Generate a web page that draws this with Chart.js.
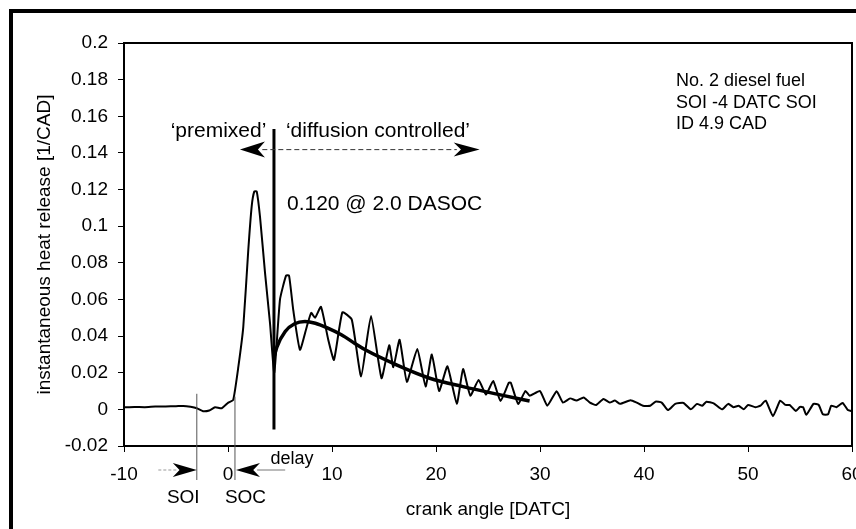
<!DOCTYPE html>
<html>
<head>
<meta charset="utf-8">
<script src="https://cdn.jsdelivr.net/npm/chart.js@4.4.1/dist/chart.umd.min.js"></script>
<style>
  html, body { margin: 0; padding: 0; background: #fff; }
  #wrap { width: 856px; height: 529px; }
</style>
</head>
<body>
<div id="wrap"><canvas id="hrr" width="856" height="529"></canvas></div>
<script>
const crankAngle = [
  -10, -9, -8, -7, -6, -5, -4.3, -3.6, -3.0, -2.4, -1.8, -1.25, -0.6, 0.03, 0.5,
  0.99, 1.47, 1.95, 2.28, 2.53, 2.76, 3.08, 3.56, 4.04, 4.45,
  5.0, 5.58, 5.87, 6.28, 6.92, 7.57, 8.0, 8.37, 8.94, 9.64, 10.19,
  11.0, 11.9, 12.8, 13.75, 14.76, 15.5, 15.9, 16.5, 17.2, 18.2, 19.0, 19.6, 20.3,
  21.1, 22.0, 22.6, 23.3, 24.1, 24.8, 25.5, 26.2, 27.0, 27.2, 27.9, 28.6, 29.0,
  30.0, 30.7, 31.6, 32.2, 32.9, 33.5, 34.2, 34.8, 35.4, 36.1, 36.7, 37.2, 37.7,
  38.7, 39.3, 39.9, 40.6, 41.1, 41.7, 42.3, 43.0, 43.8, 44.5, 45.1, 45.6, 46.0,
  46.7, 47.5, 48.1, 48.6, 49.1, 49.6, 50.0, 50.7, 51.2, 51.7, 52.4, 53.1, 53.6,
  54.0, 54.6, 55.0, 55.3, 55.6, 56.3, 56.8, 57.2, 57.7, 58.0, 58.5, 59.1, 59.6, 60
];
const heatRelease = [
  0.0011, 0.0013, 0.0012, 0.0015, 0.0016, 0.0017, 0.0019, 0.0014, 0.0006, -0.001, -0.0006, 0.0011, 0.0006, 0.0037, 0.0051,
  0.023, 0.045, 0.087, 0.111, 0.119, 0.119, 0.105, 0.0745, 0.047, 0.020,
  0.060, 0.073, 0.073, 0.054, 0.0325, 0.045, 0.0527, 0.050, 0.056, 0.038, 0.027,
  0.053, 0.049, 0.018, 0.051, 0.017, 0.035, 0.023, 0.038, 0.015, 0.033, 0.0125, 0.030, 0.010,
  0.0235, 0.003, 0.022, 0.0075, 0.016, 0.008, 0.0155, 0.0045, 0.0145, 0.0145, 0.003, 0.010, 0.0075,
  0.010, 0.002, 0.0099, 0.0037, 0.006, 0.0048, 0.0065, 0.0037, 0.0024, 0.0057, 0.0037, 0.0048, 0.003,
  0.005, 0.0037, 0.002, 0.002, 0.0042, 0.0037, -0.0004, 0.003, 0.0035, 0.0, 0.003, 0.002, 0.0042,
  0.0033, 0.0, 0.003, 0.0012, 0.002, 0.0, 0.0024, 0.0012, 0.002, 0.0048, -0.0037, 0.0048, 0.0024,
  0.0024, -0.0009, 0.0013, 0.0012, -0.003, 0.003, 0.0024, -0.0027, -0.0027, 0.002, 0.0012, 0.0035, -0.0004, -0.001
];

// smoothed (filtered) curve, diffusion phase
const fitAngle = [4.45, 4.7, 5.5, 6.4, 7.4, 8.4, 9.6, 10.9, 12.2, 13.2, 16.2, 19.4, 22.6, 26.2, 29.0];
const fitRelease = [0.029, 0.034, 0.0425, 0.0467, 0.048, 0.047, 0.0443, 0.0407, 0.036, 0.0325, 0.0243, 0.017, 0.0124, 0.0079, 0.0046];

// thick marker dividing premixed / diffusion phases
const markerAngle = [4.42, 4.42];
const markerRelease = [-0.011, 0.153];

const xTicks = [-10, 0, 10, 20, 30, 40, 50, 60];
const yTicks = [-0.02, 0, 0.02, 0.04, 0.06, 0.08, 0.1, 0.12, 0.14, 0.16, 0.18, 0.2];

const SOI = -3.0;
const SOC = 0.67;

const FONT = '"Liberation Sans", Arial, Helvetica, sans-serif';
const toPoints = (xs, ys) => xs.map((x, i) => ({ x, y: ys[i] }));

// arrowhead with a notched back, tip at (x, y), dir = +1 right / -1 left
function arrowHead(ctx, x, y, dir, len, half) {
    ctx.beginPath();
    ctx.moveTo(x, y);
    ctx.lineTo(x - dir * len, y - half);
    ctx.lineTo(x - dir * len * 0.72, y);
    ctx.lineTo(x - dir * len, y + half);
    ctx.closePath();
    ctx.fill();
}

function thinLine(ctx, x1, y1, x2, y2, color, dash) {
    ctx.save();
    ctx.strokeStyle = color;
    ctx.lineWidth = 1;
    ctx.setLineDash(dash || []);
    ctx.beginPath();
    ctx.moveTo(x1, y1);
    ctx.lineTo(x2, y2);
    ctx.stroke();
    ctx.restore();
}

const decorations = {
    id: 'decorations',
    beforeDraw(chart) {
        const { ctx } = chart;
        ctx.save();
        ctx.fillStyle = '#000';
        // outer frame of the figure
        ctx.fillRect(9, 9, 856 - 9, 4);
        ctx.fillRect(9, 9, 4, 529 - 9);
        ctx.restore();
    },
    afterDraw(chart) {
        const { ctx, chartArea: a } = chart;
        const xs = chart.scales.x, ys = chart.scales.y;
        const px = v => xs.getPixelForValue(v);
        const py = v => ys.getPixelForValue(v);

        ctx.save();
        // plot frame
        ctx.strokeStyle = '#000';
        ctx.lineWidth = 2;
        ctx.strokeRect(a.left, a.top, a.right - a.left, a.bottom - a.top);

        // SOI / SOC guide lines
        thinLine(ctx, px(SOI), py(0.0085), px(SOI), a.bottom + 34, '#555');
        thinLine(ctx, px(SOC), py(0.007), px(SOC), a.bottom + 34, '#555');

        ctx.fillStyle = '#000';
        // premixed / diffusion arrows
        const ay = py(0.1418);
        thinLine(ctx, px(3.3), ay, px(22.0), ay, '#333', [5, 3]);
        arrowHead(ctx, px(1.15), ay, -1, 25, 8);
        arrowHead(ctx, px(24.2), ay, 1, 26, 7);

        // arrows below the axis
        const by = a.bottom + 24;
        thinLine(ctx, px(-6.7), by, px(-4.8), by, '#999', [3, 2]);
        arrowHead(ctx, px(SOI), by, 1, 24, 7);
        thinLine(ctx, px(2.8), by, px(5.5), by, '#777');
        arrowHead(ctx, px(SOC) + 1, by, -1, 24, 7);

        ctx.font = '21px ' + FONT;
        ctx.textBaseline = 'middle';
        ctx.textAlign = 'center';
        ctx.fillText('\u2018premixed\u2019', px(-0.91), py(0.1516));
        ctx.fillText('\u2018diffusion controlled\u2019', px(14.42), py(0.1516));
        ctx.textAlign = 'left';
        ctx.fillText('0.120 @ 2.0 DASOC', px(5.67), py(0.1122));

        ctx.font = '18px ' + FONT;
        ctx.fillText('No. 2 diesel fuel', px(43.08), py(0.1795));
        ctx.fillText('SOI -4 DATC SOI', px(43.08), py(0.1675));
        ctx.fillText('ID 4.9 CAD', px(43.08), py(0.156));

        ctx.textAlign = 'center';
        ctx.fillText('delay', px(6.15), a.bottom + 13);
        ctx.font = '19px ' + FONT;
        ctx.fillText('SOI', px(-4.3), a.bottom + 52);
        ctx.fillText('SOC', px(1.68), a.bottom + 52);
        ctx.restore();
    }
};

new Chart(document.getElementById('hrr'), {
    type: 'line',
    data: {
        datasets: [
            {
                label: 'marker',
                data: toPoints(markerAngle, markerRelease),
                borderColor: '#000',
                borderWidth: 3,
                pointRadius: 0,
            },
            {
                label: 'filtered',
                data: toPoints(fitAngle, fitRelease),
                borderColor: '#000',
                borderWidth: 3.5,
                pointRadius: 0,
                cubicInterpolationMode: 'monotone',
            },
            {
                label: 'heat release',
                data: toPoints(crankAngle, heatRelease),
                borderColor: '#000',
                borderWidth: 2,
                pointRadius: 0,
                tension: 0.15,
            },
        ]
    },
    options: {
        responsive: false,
        animation: false,
        events: [],
        layout: { padding: { left: 0, top: 43, right: 4, bottom: 0 } },
        plugins: { legend: { display: false }, tooltip: { enabled: false } },
        scales: {
            x: {
                type: 'linear',
                min: -10,
                max: 60,
                afterBuildTicks: s => { s.ticks = xTicks.map(v => ({ value: v })); },
                afterFit: s => { s.height = 83; s.paddingLeft = 0; s.paddingRight = 0; },
                ticks: { color: '#000', font: { family: FONT, size: 19 }, padding: 11, maxRotation: 0, autoSkip: false },
                grid: { drawOnChartArea: false, color: '#000', tickLength: 6 },
                border: { color: '#000', width: 2 },
                title: { display: true, text: 'crank angle [DATC]', color: '#000', font: { family: FONT, size: 19 }, padding: { top: 0, bottom: 8 } },
            },
            y: {
                min: -0.02,
                max: 0.2,
                afterBuildTicks: s => { s.ticks = yTicks.map(v => ({ value: v })); },
                afterFit: s => { s.width = 124; s.paddingTop = 0; s.paddingBottom = 0; },
                ticks: {
                    color: '#000',
                    font: { family: FONT, size: 19 },
                    padding: 10,
                    callback: v => String(Number(v.toFixed(2))),
                },
                grid: { drawOnChartArea: false, color: '#000', tickLength: 6 },
                border: { color: '#000', width: 2 },
                title: { display: true, text: 'instantaneous heat release [1/CAD]', color: '#000', font: { family: FONT, size: 19 }, padding: { top: 33, bottom: 0 } },
            }
        }
    },
    plugins: [decorations]
});
</script>
</body>
</html>
